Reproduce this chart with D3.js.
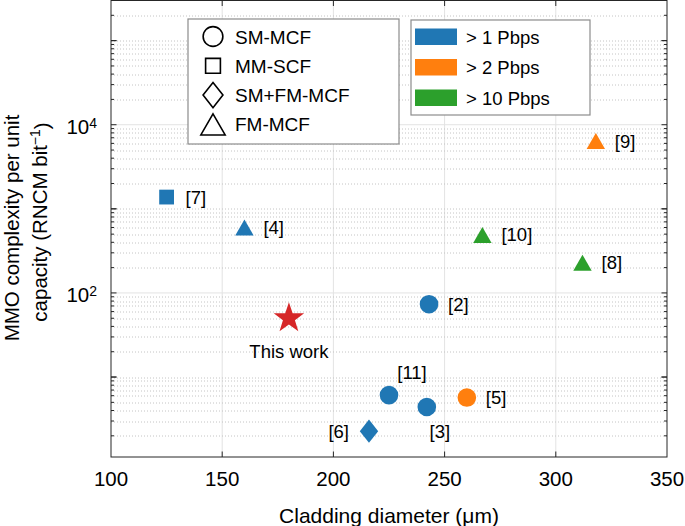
<!DOCTYPE html>
<html>
<head>
<meta charset="utf-8">
<script src="https://d3js.org/d3.v7.min.js"></script>
<style>
  body { margin: 0; background: #fff; }
  svg { display: block; font-family: "Liberation Sans", Arial, Helvetica, sans-serif; }
</style>
</head>
<body>
<div id="chart"></div>
<script>
/////////////////////////////////////////////////////////
///////////////////////// Data //////////////////////////
/////////////////////////////////////////////////////////

// one entry per published fibre
const refs       = ["[7]", "[4]", "[2]", "[11]", "[3]", "[5]", "[6]", "[10]", "[8]", "[9]"];
const diameters  = [125, 160, 243, 225, 242, 260, 216, 267, 312, 318];      // um
const complexity = [1380, 600, 73.5, 6.1, 4.4, 5.7, 2.27, 490, 228, 6400]; // RNCM / bit
const fiberTypes = ["MM-SCF", "FM-MCF", "SM-MCF", "SM-MCF", "SM-MCF", "SM-MCF",
                    "SM+FM-MCF", "FM-MCF", "FM-MCF", "FM-MCF"];
const capacities = ["> 1 Pbps", "> 1 Pbps", "> 1 Pbps", "> 1 Pbps", "> 1 Pbps", "> 2 Pbps",
                    "> 1 Pbps", "> 10 Pbps", "> 10 Pbps", "> 2 Pbps"];

// this work
const thisWork = { label: "This work", diameter: 180, complexity: 50 };

// legends / ticks
const typeNames     = ["SM-MCF", "MM-SCF", "SM+FM-MCF", "FM-MCF"];
const capacityNames = ["> 1 Pbps", "> 2 Pbps", "> 10 Pbps"];
const xTicks = [100, 150, 200, 250, 300, 350];
const yTicks = [1e2, 1e4];

/////////////////////////////////////////////////////////
/////////////////////// Layout //////////////////////////
/////////////////////////////////////////////////////////
const W = 685, H = 526;
const margin = { top: 0.5, right: 18, bottom: 69, left: 111 };
const w = W - margin.left - margin.right,
      h = H - margin.top - margin.bottom;

const colorOf = d3.scaleOrdinal()
  .domain(capacityNames)
  .range(["#2077b4", "#ff7f0e", "#2ca02c"]);

const x = d3.scaleLinear().domain([100, 350]).range([0, w]);
const y = d3.scaleLog().domain([1.12, 3e5]).range([h, 0]);

const svg = d3.select("#chart").append("svg")
  .attr("width", W)
  .attr("height", H);

const g = svg.append("g")
  .attr("transform", "translate(" + margin.left + "," + margin.top + ")");

/////////////////////////////////////////////////////////
//////////////////////// Grid ///////////////////////////
/////////////////////////////////////////////////////////

// minor values of the log axis (2..9 x 10^k)
const minorY = [];
for (let k = 0; k <= 5; k++) {
  for (let m = 1; m <= 9; m++) {
    const v = m * Math.pow(10, k);
    if (v > y.domain()[0] && v < y.domain()[1] && yTicks.indexOf(v) < 0) minorY.push(v);
  }
}

g.append("g").selectAll("line")
  .data(xTicks.slice(1, -1))
  .enter().append("line")
  .attr("x1", d => x(d)).attr("x2", d => x(d))
  .attr("y1", 0).attr("y2", h)
  .style("stroke", "#e3e3e3")
  .style("stroke-width", 1);

g.append("g").selectAll("line")
  .data(yTicks)
  .enter().append("line")
  .attr("x1", 0).attr("x2", w)
  .attr("y1", d => y(d)).attr("y2", d => y(d))
  .style("stroke", "#e3e3e3")
  .style("stroke-width", 1);

g.append("g").selectAll("line")
  .data(minorY)
  .enter().append("line")
  .attr("x1", 0).attr("x2", w)
  .attr("y1", d => Math.round(y(d)) + 0.5).attr("y2", d => Math.round(y(d)) + 0.5)
  .style("stroke", "#c4c4c4")
  .style("stroke-width", 1)
  .style("stroke-dasharray", "1,2");

/////////////////////////////////////////////////////////
//////////////////////// Axes ///////////////////////////
/////////////////////////////////////////////////////////
const axisColor = "#262626";

g.append("rect")
  .attr("x", 0).attr("y", 0)
  .attr("width", w).attr("height", h)
  .style("fill", "none")
  .style("stroke", axisColor)
  .style("stroke-width", 1);

// ticks on all four sides, pointing inward
const allY = yTicks.concat(minorY).concat([10, 1000, 1e5]);
g.append("g").selectAll("line")
  .data(allY)
  .enter().append("line")
  .attr("x1", 0)
  .attr("x2", d => (Math.log10(d) % 1 === 0) ? 5.5 : 3)
  .attr("y1", d => y(d)).attr("y2", d => y(d))
  .style("stroke", axisColor);
g.append("g").selectAll("line")
  .data(allY)
  .enter().append("line")
  .attr("x1", w)
  .attr("x2", d => w - ((Math.log10(d) % 1 === 0) ? 5.5 : 3))
  .attr("y1", d => y(d)).attr("y2", d => y(d))
  .style("stroke", axisColor);
g.append("g").selectAll("line")
  .data(xTicks.slice(1, -1))
  .enter().append("line")
  .attr("x1", d => x(d)).attr("x2", d => x(d))
  .attr("y1", h).attr("y2", h - 5.5)
  .style("stroke", axisColor);
g.append("g").selectAll("line")
  .data(xTicks.slice(1, -1))
  .enter().append("line")
  .attr("x1", d => x(d)).attr("x2", d => x(d))
  .attr("y1", 0).attr("y2", 5.5)
  .style("stroke", axisColor);

// tick labels
g.append("g").selectAll("text")
  .data(xTicks)
  .enter().append("text")
  .attr("x", d => x(d))
  .attr("y", h + 29)
  .attr("text-anchor", "middle")
  .style("font-size", "20.5px")
  .style("fill", "#000")
  .text(d => d);

const yLab = g.append("g").selectAll("text")
  .data(yTicks)
  .enter().append("text")
  .attr("x", -14)
  .attr("y", d => y(d) + 9)
  .attr("text-anchor", "end")
  .style("font-size", "20.5px")
  .style("fill", "#000");
yLab.append("tspan").text("10");
yLab.append("tspan")
  .attr("dy", "-0.42em")
  .style("font-size", "14px")
  .text(d => Math.round(Math.log10(d)));

// axis titles
g.append("text")
  .attr("x", w / 2 + 0)
  .attr("y", h + 66)
  .attr("text-anchor", "middle")
  .style("font-size", "21px")
  .text("Cladding diameter (\u03bcm)");

const yt = svg.append("text")
  .attr("transform", "translate(19,228) rotate(-90)")
  .attr("text-anchor", "middle")
  .style("font-size", "20.5px");
yt.append("tspan").attr("x", 0).attr("y", 0).text("MMO complexity per unit");
const yt2 = svg.append("text")
  .attr("transform", "translate(46.5,222) rotate(-90)")
  .attr("text-anchor", "middle")
  .style("font-size", "20.5px");
yt2.append("tspan").text("capacity (RNCM bit");
yt2.append("tspan").attr("dy", "-0.45em").style("font-size", "14px").text("\u22121");
yt2.append("tspan").attr("dy", "0.45em").text(")");

/////////////////////////////////////////////////////////
/////////////////////// Markers /////////////////////////
/////////////////////////////////////////////////////////

// marker path for a fibre type, centred on 0,0 (s = scale factor)
function markerPath(type, s) {
  s = s || 1;
  if (type === "SM-MCF") {
    const r = 9.3 * s;
    return "M" + (-r) + ",0A" + r + "," + r + " 0 1,0 " + r + ",0A" + r + "," + r + " 0 1,0 " + (-r) + ",0Z";
  }
  if (type === "MM-SCF") {
    const a = 7.4 * s;
    return "M" + (-a) + "," + (-a) + "H" + a + "V" + a + "H" + (-a) + "Z";
  }
  if (type === "SM+FM-MCF") {
    const a = 9.2 * s, b = 11.6 * s;
    return "M0," + (-b) + "L" + a + ",0L0," + b + "L" + (-a) + ",0Z";
  }
  // FM-MCF triangle
  const a = 9.2 * s, b = 8 * s;
  return "M0," + (-b) + "L" + a + "," + b + "L" + (-a) + "," + b + "Z";
}

const pts = refs.map((r, i) => ({
  ref: r, d: diameters[i], c: complexity[i], type: fiberTypes[i], cap: capacities[i]
}));

// where each reference label sits relative to its marker
const labelPos = {
  "[11]": { dx: 23, dy: -16, anchor: "middle" },
  "[3]":  { dx: 13, dy: 31, anchor: "middle" },
  "[6]":  { dx: -20, dy: 7, anchor: "end" }
};

const dots = g.append("g").selectAll("g")
  .data(pts)
  .enter().append("g")
  .attr("transform", d => "translate(" + x(d.d) + "," + y(d.c) + ")");

dots.append("path")
  .attr("d", d => markerPath(d.type))
  .style("fill", d => colorOf(d.cap));

dots.append("text")
  .attr("x", d => (labelPos[d.ref] || { dx: 19 }).dx)
  .attr("y", d => (labelPos[d.ref] || { dy: 6.5 }).dy)
  .attr("text-anchor", d => (labelPos[d.ref] || { anchor: "start" }).anchor)
  .style("font-size", "18.5px")
  .text(d => d.ref);

// red star for this work
const starPts = d3.range(10).map(i => {
  const r = i % 2 === 0 ? 16 : 6.3, a = i * Math.PI / 5 - Math.PI / 2;
  return [r * Math.cos(a), r * Math.sin(a)];
});
const star = g.append("g")
  .attr("transform", "translate(" + x(thisWork.diameter) + "," + y(thisWork.complexity) + ")");
star.append("path")
  .attr("d", "M" + starPts.join("L") + "Z")
  .style("fill", "#d62728");
star.append("text")
  .attr("y", 40)
  .attr("text-anchor", "middle")
  .style("font-size", "18.5px")
  .text(thisWork.label);

/////////////////////////////////////////////////////////
/////////////////////// Legends /////////////////////////
/////////////////////////////////////////////////////////
const leg1 = svg.append("g").attr("transform", "translate(188,19)");
leg1.append("rect")
  .attr("width", 211).attr("height", 125)
  .style("fill", "#fff").style("stroke", "#8c8c8c").style("stroke-width", 1.2);
const l1 = leg1.selectAll(".item")
  .data(typeNames)
  .enter().append("g")
  .attr("transform", (d, i) => "translate(0," + (17.5 + i * 29.3) + ")");
l1.append("path")
  .attr("transform", "translate(25,0)")
  .attr("d", d => markerPath(d, d === "FM-MCF" ? 1.32 : (d === "SM+FM-MCF" ? 1.08 : (d === "MM-SCF" ? 1 : 1.06))))
  .style("fill", "none").style("stroke", "#000").style("stroke-width", 1.6);
l1.append("text")
  .attr("x", 47).attr("y", 7)
  .style("font-size", "19px")
  .text(d => d);

const leg2 = svg.append("g").attr("transform", "translate(411,20)");
leg2.append("rect")
  .attr("width", 179).attr("height", 95)
  .style("fill", "#fff").style("stroke", "#8c8c8c").style("stroke-width", 1.2);
const l2 = leg2.selectAll(".item")
  .data(capacityNames)
  .enter().append("g")
  .attr("transform", (d, i) => "translate(0," + (17 + i * 30.5) + ")");
l2.append("rect")
  .attr("x", 4).attr("y", -8.5)
  .attr("width", 42).attr("height", 16.5)
  .style("fill", d => colorOf(d));
l2.append("text")
  .attr("x", 55).attr("y", 6.5)
  .style("font-size", "18.5px")
  .text(d => d);
</script>
</body>
</html>
